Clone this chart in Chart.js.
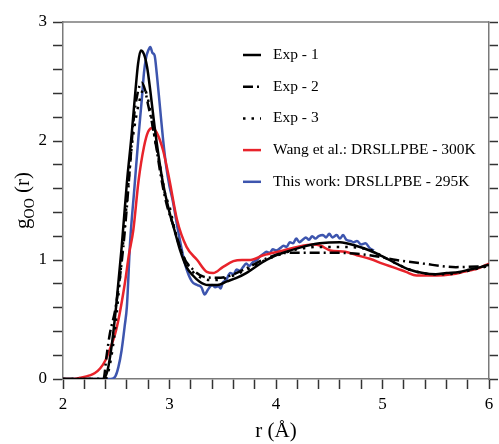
<!DOCTYPE html>
<html lang="en">
<head>
    <meta charset="UTF-8">
    <title>g_OO(r) comparison</title>
    <style>
        body { margin: 0; background: #fff; }
        canvas { display: block; }
    </style>
</head>
<body>
    <canvas id="rdfChart" width="499" height="444"></canvas>

    <script src="https://cdn.jsdelivr.net/npm/chart.js"></script>
    <script>
    // data: r in Angstrom, g_OO(r)
    var rExp1 = [2.0, 2.38, 2.42, 2.46, 2.50, 2.55, 2.60, 2.645, 2.68, 2.705, 2.73, 2.76, 2.79, 2.82, 2.86, 2.90, 2.94, 3.0, 3.05, 3.1, 3.16, 3.22, 3.28, 3.36, 3.45, 3.54, 3.63, 3.72, 3.82, 3.91, 4.0, 4.1, 4.25, 4.41, 4.6, 4.75, 4.88, 5.0, 5.13, 5.25, 5.38, 5.5, 5.6, 5.72, 5.82, 5.92, 6.0];
    var gExp1 = [0, 0, 0.08, 0.3, 0.62, 1.1, 1.65, 2.06, 2.42, 2.65, 2.76, 2.73, 2.62, 2.42, 2.12, 1.86, 1.64, 1.40, 1.24, 1.08, 0.94, 0.87, 0.82, 0.79, 0.79, 0.82, 0.85, 0.89, 0.95, 1.0, 1.04, 1.07, 1.11, 1.14, 1.15, 1.12, 1.08, 1.03, 0.97, 0.92, 0.89, 0.88, 0.89, 0.90, 0.92, 0.94, 0.96];

    var rExp2 = [2.0, 2.38, 2.41, 2.44, 2.49, 2.535, 2.565, 2.60, 2.63, 2.66, 2.70, 2.74, 2.77, 2.80, 2.83, 2.87, 2.92, 2.97, 3.04, 3.13, 3.22, 3.32, 3.44, 3.54, 3.7, 3.9, 4.1, 4.2, 4.4, 4.6, 4.88, 5.13, 5.38, 5.69, 6.0];
    var gExp2 = [0, 0, 0.2, 0.38, 0.58, 0.86, 1.1, 1.45, 1.8, 2.15, 2.4, 2.49, 2.43, 2.3, 2.18, 1.98, 1.7, 1.48, 1.28, 1.03, 0.92, 0.86, 0.85, 0.86, 0.92, 1.01, 1.06, 1.06, 1.06, 1.06, 1.04, 1.0, 0.97, 0.94, 0.95];

    var rExp3 = [2.0, 2.40, 2.44, 2.48, 2.52, 2.56, 2.60, 2.645, 2.69, 2.73, 2.76, 2.79, 2.83, 2.87, 2.92, 2.96, 3.0, 3.05, 3.1, 3.16, 3.22, 3.3, 3.4, 3.5, 3.6, 3.75, 3.9, 4.05, 4.2, 4.4, 4.6, 4.8, 4.9, 5.0, 5.13, 5.25, 5.38, 5.5, 5.6, 5.75, 5.9, 6.0];
    var gExp3 = [0, 0, 0.12, 0.35, 0.7, 1.1, 1.5, 1.95, 2.22, 2.38, 2.44, 2.38, 2.2, 1.98, 1.75, 1.55, 1.45, 1.25, 1.1, 0.98, 0.9, 0.85, 0.83, 0.84, 0.87, 0.93, 1.0, 1.05, 1.09, 1.11, 1.11, 1.10, 1.08, 1.03, 0.97, 0.92, 0.89, 0.88, 0.88, 0.90, 0.93, 0.95];

    var rWang = [2.0, 2.1, 2.16, 2.25, 2.30, 2.35, 2.40, 2.44, 2.49, 2.53, 2.58, 2.62, 2.66, 2.71, 2.76, 2.80, 2.84, 2.88, 2.94, 3.0, 3.07, 3.16, 3.26, 3.35, 3.41, 3.50, 3.60, 3.68, 3.76, 3.88, 4.07, 4.2, 4.35, 4.42, 4.51, 4.65, 4.76, 4.88, 5.0, 5.13, 5.22, 5.32, 5.51, 5.65, 5.76, 5.9, 6.0];
    var gWang = [0, 0, 0.01, 0.03, 0.05, 0.09, 0.16, 0.25, 0.38, 0.54, 0.8, 1.05, 1.25, 1.67, 1.95, 2.08, 2.11, 2.07, 1.92, 1.67, 1.34, 1.11, 1.0, 0.90, 0.89, 0.94, 0.99, 1.0, 1.0, 1.04, 1.08, 1.11, 1.13, 1.12, 1.08, 1.07, 1.04, 1.01, 0.97, 0.93, 0.90, 0.87, 0.87, 0.88, 0.90, 0.93, 0.97];

    var rThis = [2.0, 2.45, 2.49, 2.52, 2.55, 2.58, 2.60, 2.63, 2.67, 2.71, 2.74, 2.76, 2.78, 2.80, 2.82, 2.84, 2.86, 2.88, 2.91, 2.94, 2.97, 3.0, 3.03, 3.08, 3.145, 3.21, 3.26, 3.30, 3.33, 3.36, 3.40, 3.43, 3.46, 3.48, 3.50, 3.53, 3.57, 3.60, 3.63, 3.66, 3.69, 3.72, 3.75, 3.78, 3.82, 3.85, 3.88, 3.91, 3.94, 3.97, 4.0, 4.04, 4.07, 4.10, 4.13, 4.16, 4.19, 4.22, 4.25, 4.28, 4.31, 4.34, 4.37, 4.40, 4.44, 4.47, 4.50, 4.53, 4.57, 4.60, 4.63, 4.66, 4.70, 4.73, 4.76, 4.80, 4.84, 4.88, 4.92];
    var gThis = [0, 0, 0.02, 0.1, 0.24, 0.45, 0.61, 1.15, 1.6, 2.05, 2.35, 2.57, 2.7, 2.76, 2.79, 2.74, 2.72, 2.57, 2.29, 2.01, 1.78, 1.62, 1.5, 1.25, 0.97, 0.82, 0.79, 0.77, 0.71, 0.75, 0.79, 0.77, 0.78, 0.76, 0.81, 0.83, 0.89, 0.88, 0.92, 0.91, 0.94, 0.97, 0.95, 0.98, 1.0, 1.03, 1.05, 1.07, 1.06, 1.09, 1.08, 1.10, 1.12, 1.11, 1.15, 1.14, 1.18, 1.15, 1.17, 1.19, 1.17, 1.20, 1.18, 1.20, 1.21, 1.19, 1.22, 1.19, 1.21, 1.18, 1.21, 1.17, 1.16, 1.15, 1.16, 1.13, 1.14, 1.10, 1.08];

    var seriesNames = ['Exp - 1', 'Exp - 2', 'Exp - 3', 'Wang et al.: DRSLLPBE - 300K', 'This work: DRSLLPBE - 295K'];

    function toPoints(xs, ys) {
        return xs.map(function (x, i) { return { x: x, y: ys[i] }; });
    }

    var serif = '"Liberation Serif", "DejaVu Serif", serif';
    var axisGray = '#7a7a7a';
    var tickDark = '#333';

    // y title with subscript, drawn by hand
    var yTitlePlugin = {
        id: 'yTitle',
        afterDraw: function (chart) {
            var ctx = chart.ctx;
            var area = chart.chartArea;
            ctx.save();
            ctx.translate(29, (area.top + area.bottom) / 2);
            ctx.rotate(-Math.PI / 2);
            ctx.fillStyle = '#000';
            ctx.textBaseline = 'alphabetic';
            var big = '21px ' + serif, small = '14px ' + serif;
            ctx.font = big;  var w1 = ctx.measureText('g').width;
            ctx.font = small; var w2 = ctx.measureText('OO').width;
            ctx.font = big;  var w3 = ctx.measureText(' (r)').width;
            var x = -(w1 + w2 + w3) / 2;
            ctx.font = big; ctx.fillText('g', x, 0);
            ctx.font = small; ctx.fillText('OO', x + w1, 5);
            ctx.font = big; ctx.fillText(' (r)', x + w1 + w2, 0);
            ctx.restore();
        }
    };

    // legend inside the plot + top frame line
    var innerLegend = {
        id: 'innerLegend',
        afterDraw: function (chart) {
            var ctx = chart.ctx;
            var area = chart.chartArea;
            ctx.save();
            ctx.strokeStyle = axisGray;
            ctx.lineWidth = 1.5;
            ctx.beginPath();
            ctx.moveTo(area.left, area.top);
            ctx.lineTo(area.right, area.top);
            ctx.stroke();

            chart.data.datasets.forEach(function (ds, i) {
                var y = 55 + i * 31.7;
                ctx.strokeStyle = ds.borderColor;
                ctx.lineWidth = ds.borderWidth;
                ctx.setLineDash(ds.borderDash || []);
                ctx.beginPath();
                ctx.moveTo(243, y);
                ctx.lineTo(261, y);
                ctx.stroke();
                ctx.setLineDash([]);
                ctx.fillStyle = '#000';
                ctx.font = '15.5px ' + serif;
                ctx.textBaseline = 'middle';
                ctx.fillText(ds.label, 273, y);
            });
            ctx.restore();
        }
    };

    var ctx = document.getElementById('rdfChart').getContext('2d');
    var rdfChart = new Chart(ctx, {
        type: 'line',
        data: {
            datasets: [{
                label: seriesNames[0],
                data: toPoints(rExp1, gExp1),
                borderColor: '#000',
                borderWidth: 2.5
            }, {
                label: seriesNames[1],
                data: toPoints(rExp2, gExp2),
                borderColor: '#000',
                borderWidth: 2.5,
                borderDash: [10, 4, 2, 4]
            }, {
                label: seriesNames[2],
                data: toPoints(rExp3, gExp3),
                borderColor: '#000',
                borderWidth: 2.5,
                borderDash: [2.5, 6]
            }, {
                label: seriesNames[3],
                data: toPoints(rWang, gWang),
                borderColor: '#e8232b',
                borderWidth: 2.5
            }, {
                label: seriesNames[4],
                data: toPoints(rThis, gThis),
                borderColor: '#3d55ae',
                borderWidth: 2.5
            }]
        },
        options: {
            responsive: false,
            animation: false,
            devicePixelRatio: 1,
            layout: { padding: { left: 0, right: 0, top: 22, bottom: 0 } },
            elements: {
                point: { radius: 0 },
                line: { cubicInterpolationMode: 'monotone', fill: false }
            },
            plugins: {
                legend: { display: false },
                tooltip: { enabled: false }
            },
            scales: {
                x: {
                    type: 'linear',
                    min: 2, max: 6,
                    afterFit: function (s) { s.height = 65; },
                    border: { color: axisGray, width: 1.5 },
                    grid: { drawOnChartArea: false, tickLength: 10, tickColor: tickDark, tickWidth: 1.5 },
                    ticks: {
                        stepSize: 0.2,
                        padding: 5,
                        autoSkip: false,
                        maxRotation: 0,
                        color: '#000',
                        font: { family: serif, size: 17 },
                        callback: function (v) {
                            return Math.abs(v - Math.round(v)) < 1e-6 ? String(Math.round(v)) : '';
                        }
                    },
                    title: {
                        display: true,
                        text: 'r (Å)',
                        color: '#000',
                        font: { family: serif, size: 21 },
                        padding: { top: 2, bottom: 0 }
                    }
                },
                y: {
                    type: 'linear',
                    min: 0, max: 3,
                    afterFit: function (s) { s.width = 63; },
                    border: { color: axisGray, width: 1.5 },
                    grid: { drawOnChartArea: false, tickLength: 10, tickColor: tickDark, tickWidth: 1.5 },
                    ticks: {
                        stepSize: 0.2,
                        padding: 6,
                        autoSkip: false,
                        color: '#000',
                        font: { family: serif, size: 17 },
                        callback: function (v) {
                            return Math.abs(v - Math.round(v)) < 1e-6 ? String(Math.round(v)) : '';
                        }
                    }
                },
                y2: {
                    type: 'linear',
                    position: 'right',
                    min: 0, max: 3,
                    afterFit: function (s) { s.width = 10; },
                    border: { color: axisGray, width: 1.5 },
                    grid: { drawOnChartArea: false, tickLength: 9, tickColor: tickDark, tickWidth: 1.5 },
                    ticks: { stepSize: 0.2, display: false }
                }
            }
        },
        plugins: [yTitlePlugin, innerLegend]
    });
    </script>
</body>
</html>
